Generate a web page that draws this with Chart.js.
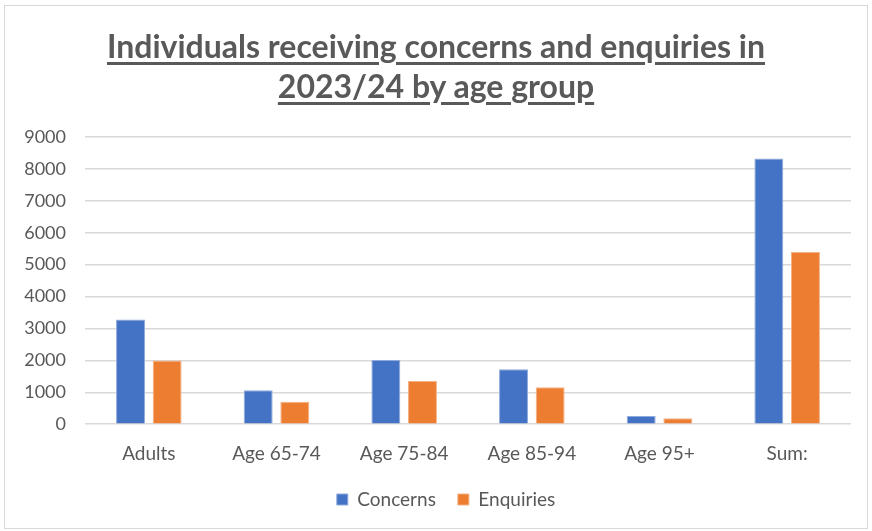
<!DOCTYPE html>
<html>
<head>
<meta charset="utf-8">
<script src="https://cdn.jsdelivr.net/npm/chart.js@4.4.1/dist/chart.umd.min.js"></script>
<style>
  html, body { margin: 0; padding: 0; background: #fff; }
  #wrap {
    position: absolute; left: 4px; top: 5px;
    width: 864px; height: 524px;
    border: 1px solid #d9d9d9; box-sizing: border-box;
  }
  #title {
    position: absolute; left: 0; top: 20px; width: 100%;
    text-align: center; font-family: Lato, sans-serif; font-weight: bold;
    font-size: 32px; line-height: 40px; color: #595959;
    text-decoration: underline; text-underline-offset: 4px;
  }
  #salesChartAge { position: absolute; left: 0; top: 0; }
</style>
</head>
<body>
<div id="wrap">
  <canvas id="salesChartAge" width="862" height="522"></canvas>
  <div id="title">Individuals receiving concerns and enquiries in<br>2023/24 by age group</div>
</div>
<script>
const ageGroups = ['Adults', 'Age 65-74', 'Age 75-84', 'Age 85-94', 'Age 95+', 'Sum:'];
const concerns = [3280, 1060, 2010, 1720, 260, 8330];
const enquiries = [2000, 700, 1350, 1160, 190, 5400];
const yTicks = [0, 1000, 2000, 3000, 4000, 5000, 6000, 7000, 8000, 9000];

const textColor = '#595959';
const tickFont = { family: 'Lato, sans-serif', size: 18 };
const labelFont = { family: 'Lato, sans-serif', size: 19 };

// legend keeps wide spacing between items but takes less room under the axis
const legendSpacing = {
    id: 'legendSpacing',
    beforeInit(chart) {
        const fit = chart.legend.fit;
        chart.legend.fit = function () {
            fit.bind(chart.legend)();
            this.height = 36;
        };
    },
    afterLayout(chart) {
        const lg = chart.legend;
        lg.top -= 15;
        lg.height = 70;
        lg.bottom = lg.top + lg.height;
        lg.left += 18;
        lg.right += 18;
    }
};

const ctx = document.getElementById('salesChartAge').getContext('2d');
new Chart(ctx, {
    type: 'bar',
    data: {
        labels: ageGroups,
        datasets: [
            {
                label: 'Concerns',
                data: concerns,
                backgroundColor: '#4472c4',
                borderColor: '#8faadc',
                borderWidth: 1,
                barPercentage: 0.79,
                categoryPercentage: 0.574
            },
            {
                label: 'Enquiries',
                data: enquiries,
                backgroundColor: '#ed7d31',
                borderColor: '#f4b183',
                borderWidth: 1,
                barPercentage: 0.79,
                categoryPercentage: 0.574
            }
        ]
    },
    options: {
        responsive: false,
        animation: false,
        layout: { padding: { left: 0, right: 16, top: 131, bottom: 9 } },
        scales: {
            x: {
                grid: { display: false, drawTicks: false },
                border: { display: false },
                ticks: { color: textColor, font: labelFont, padding: 18 }
            },
            y: {
                min: 0,
                max: 9000,
                afterBuildTicks: (scale) => { scale.ticks = yTicks.map(v => ({ value: v })); },
                afterFit: (scale) => { scale.width = 80; },
                grid: { color: '#d9d9d9', lineWidth: 1.5, drawTicks: false },
                border: { display: false },
                ticks: {
                    color: textColor,
                    font: tickFont,
                    padding: 19,
                    callback: (v) => String(v)
                }
            }
        },
        plugins: {
            legend: {
                position: 'bottom',
                labels: {
                    color: textColor,
                    font: labelFont,
                    boxWidth: 11,
                    boxHeight: 11,
                    padding: 22,
                    useBorderRadius: false
                }
            },
            tooltip: { enabled: false }
        }
    },
    plugins: [legendSpacing]
});
</script>
</body>
</html>
